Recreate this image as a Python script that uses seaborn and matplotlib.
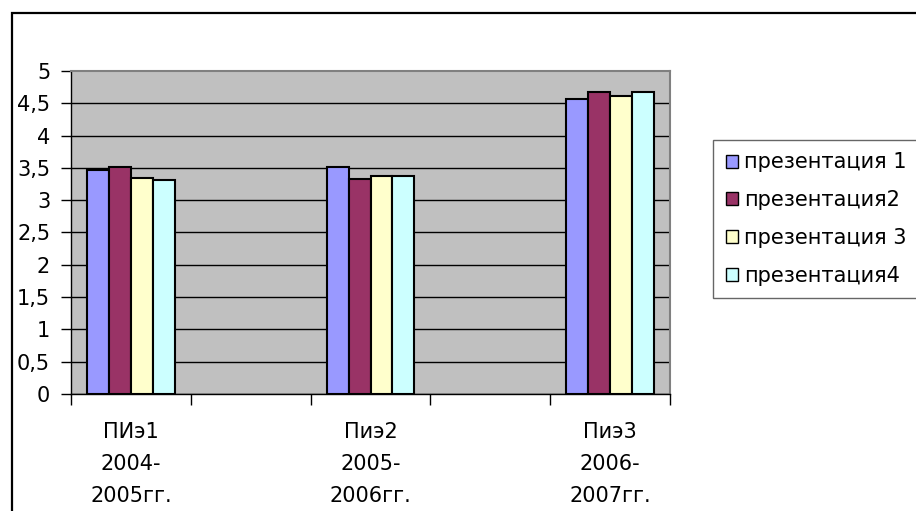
import matplotlib
matplotlib.use("Agg")
import matplotlib.pyplot as plt
from matplotlib.patches import Rectangle
import seaborn as sns
import pandas as pd

# Category labels (years of each study), series names and scores
categories = ["ПИэ1\n2004-\n2005гг.", "Пиэ2\n2005-\n2006гг.", "Пиэ3\n2006-\n2007гг."]
series = ["презентация 1", "презентация2", "презентация 3", "презентация4"]
pres1 = [3.46, 3.52, 4.56]
pres2 = [3.52, 3.33, 4.68]
pres3 = [3.34, 3.37, 4.62]
pres4 = [3.31, 3.37, 4.68]
colors = ["#9999FF", "#993366", "#FFFFCC", "#CCFFFF"]
y_ticks = [0, 0.5, 1, 1.5, 2, 2.5, 3, 3.5, 4, 4.5, 5]

rows = []
for name, vals in zip(series, [pres1, pres2, pres3, pres4]):
    for cat, v in zip(categories, vals):
        rows.append({"period": cat, "series": name, "score": v})
df = pd.DataFrame(rows)

plt.rcParams["font.family"] = ["DejaVu Sans"]
plt.rcParams["font.size"] = 15

fig = plt.figure(figsize=(9.16, 5.11), dpi=100)
ax = fig.add_axes([71 / 916, 1 - 394 / 511, (670 - 71) / 916, (394 - 71) / 511])

# empty slots between the periods
order = [categories[0], "_gap1", categories[1], "_gap2", categories[2]]

sns.barplot(data=df, x="period", y="score", hue="series", order=order,
            hue_order=series, palette=colors, saturation=1, width=0.733,
            edgecolor="black", linewidth=1.5, ax=ax, legend=True)

ax.set_facecolor("#C0C0C0")
ax.set_xlim(-0.5, 4.5)
ax.set_ylim(0, 5)
ax.set_xlabel("")
ax.set_ylabel("")

ax.set_yticks(y_ticks)
ax.set_yticklabels([("%g" % t).replace(".", ",") for t in y_ticks])
ax.tick_params(axis="y", direction="out", length=7, width=1, pad=8, colors="black")

ax.set_xticks([-0.5, 0.5, 1.5, 2.5, 3.5, 4.5])
ax.set_xticklabels([])
ax.set_xticks([0, 2, 4], minor=True)
ax.set_xticklabels(categories, minor=True)
for lbl in ax.get_xticklabels(minor=True):
    lbl.set_linespacing(1.72)
ax.tick_params(axis="x", which="major", direction="out", length=8, width=1)
ax.tick_params(axis="x", which="minor", length=0, pad=20.5)

ax.yaxis.grid(True, color="black", linewidth=1)
ax.set_axisbelow(True)
ax.get_ygridlines()[-1].set_visible(False)

for side in ("top", "right"):
    ax.spines[side].set_color("#808080")
    ax.spines[side].set_linewidth(1.5)
for side in ("left", "bottom"):
    ax.spines[side].set_color("black")
    ax.spines[side].set_linewidth(1)

leg = ax.get_legend()
handles = leg.legend_handles
leg.remove()
for h in handles:
    h.set_edgecolor("black")
    h.set_linewidth(1)
fig.legend(handles, series, loc="upper left",
           bbox_to_anchor=(713 / 916, 1 - 140 / 511),
           frameon=True, fancybox=False, edgecolor="#404040",
           handlelength=0.6, handleheight=0.6, handletextpad=0.3,
           labelspacing=0.85, borderpad=0.6, borderaxespad=0,
           fontsize=15)
fig.legends[0].get_frame().set_linewidth(1)

# outer chart frame
fig.patches.append(Rectangle((11.5 / 916, -0.2), 2.0, 1.2 - 12.5 / 511,
                             transform=fig.transFigure, fill=False,
                             edgecolor="black", linewidth=1.6, clip_on=False))

fig.savefig("out.png", dpi=100)
